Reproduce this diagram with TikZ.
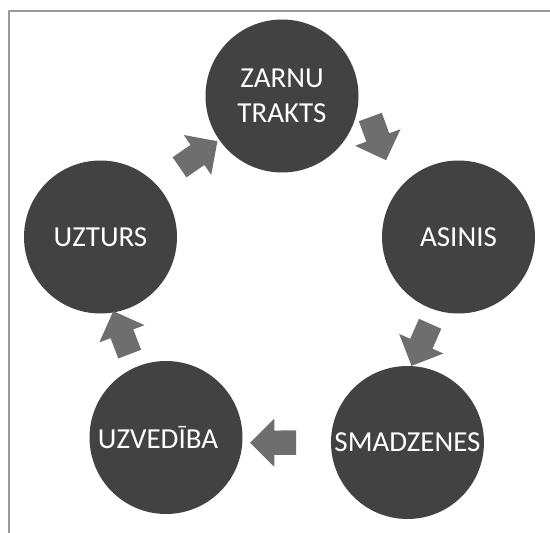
\documentclass[tikz,border=0pt]{standalone}
\usepackage{fontspec}
\setmainfont{Carlito}
\usepackage{tikz}
\usetikzlibrary{shapes.arrows}
\definecolor{circlegray}{rgb}{0.26, 0.26, 0.26}
\definecolor{arrowgray}{rgb}{0.43, 0.43, 0.43}
\definecolor{framegray}{rgb}{0.6, 0.6, 0.6}

\begin{document}
\begin{tikzpicture}[line cap=round,line join=round, x=1pt,y=-1pt,
	stage/.style={circle, fill=circlegray, minimum size=153pt, inner sep=0pt, text=white, align=center, font=\fontsize{29}{35}\selectfont},
	cyclearrow/.style={single arrow, fill=arrowgray, minimum height=46pt, inner sep=12pt, single arrow head extend=12pt, sloped, allow upside down}]
	\useasboundingbox (0,0) rectangle (550,533);
	\draw[line width=2pt,framegray,line cap=butt] (9,533) -- (9,10.5) -- (550,10.5);
	\node[stage] (zarnu) at (282,96) {ZARNU\\TRAKTS};
	\node[stage] (asinis) at (458.5,237) {ASINIS};
	\node[stage] (smadzenes) at (407.5,442.5) {SMADZENES};
	\node[stage] (uzvediba) at (166,437.5) {\hspace*{-16pt}UZVEDĪBA};
	\node[stage] (uzturs) at (100.5,237) {UZTURS};
	\path (uzturs.44) -- node[cyclearrow,pos=0.595] (a1) {} (zarnu.215);
	\path (zarnu.29) -- node[cyclearrow,pos=0.561] (a2) {} (asinis.143);
	\path (asinis.253) -- node[cyclearrow,pos=0.52] (a3) {} (smadzenes.87);
	\path (smadzenes.180) -- node[cyclearrow,pos=0.584] (a4) {} (uzvediba.-4);
	\path (uzvediba.114) -- node[cyclearrow,pos=0.53] (a5) {} (uzturs.-80);
\end{tikzpicture}
\end{document}
